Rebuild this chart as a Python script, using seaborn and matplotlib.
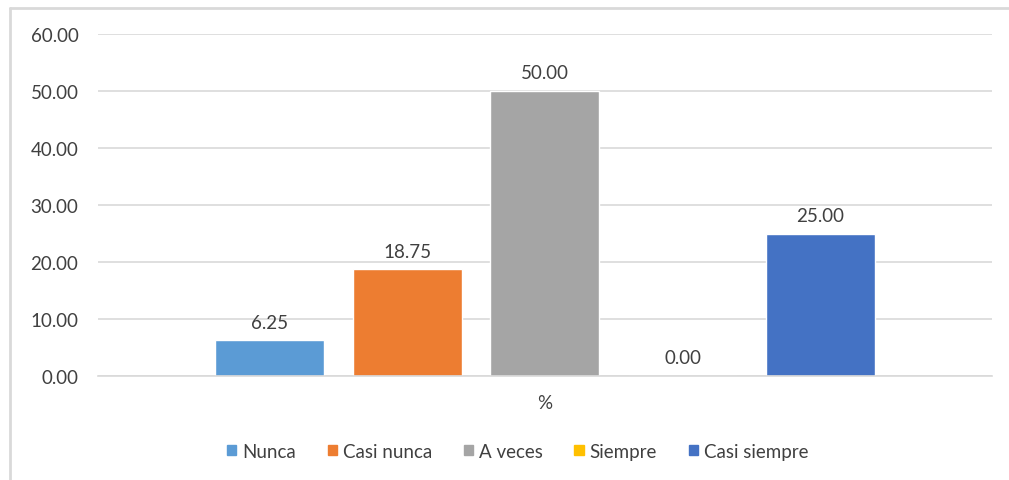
import matplotlib.pyplot as plt
import pandas as pd
import seaborn as sns
from matplotlib.lines import Line2D

# data
categorias = ["Nunca", "Casi nunca", "A veces", "Siempre", "Casi siempre"]
porcentajes = [6.25, 18.75, 50.00, 0.00, 25.00]
colores = ["#5B9BD5", "#ED7D31", "#A5A5A5", "#FFC000", "#4472C4"]
yticks = [0, 10, 20, 30, 40, 50, 60]

df = pd.DataFrame({"grupo": ["%"] * len(categorias),
                   "categoria": categorias,
                   "valor": porcentajes})

sns.set_theme(style="white")
plt.rcParams["font.family"] = ["Lato", "DejaVu Sans"]

fig = plt.figure(figsize=(10.09, 4.81), dpi=100)
ax = fig.add_axes([0.097, 0.216, 0.886, 0.711])

sns.barplot(data=df, x="grupo", y="valor", hue="categoria",
            hue_order=categorias, palette=colores, width=0.77, gap=0.21,
            saturation=1, ax=ax, legend=False)

# data labels
for cont in ax.containers:
    ax.bar_label(cont, fmt="%.2f", padding=7, fontsize=13.5, color="#404040")

ax.set_ylim(0, 60)
ax.set_xlim(-0.5, 0.5)
ax.set_yticks(yticks)
ax.set_yticklabels([f"{v:.2f}" for v in yticks])
ax.yaxis.grid(True, color="#D9D9D9", linewidth=1.2)
ax.set_axisbelow(True)
for s in ["top", "right", "left"]:
    ax.spines[s].set_visible(False)
ax.spines["bottom"].set_color("#D9D9D9")
ax.spines["bottom"].set_linewidth(1.2)
ax.tick_params(axis="both", length=0, labelsize=13.5, colors="#404040")
ax.tick_params(axis="y", pad=14)
ax.tick_params(axis="x", pad=13)
ax.set_xlabel("")
ax.set_ylabel("")

# legend below
handles = [plt.Rectangle((0, 0), 1, 1, color=c) for c in colores]
fig.legend(handles, categorias, loc="center", bbox_to_anchor=(0.513, 0.06),
           ncol=5, frameon=False, fontsize=13.5, handlelength=0.5,
           handleheight=0.5, handletextpad=0.3, columnspacing=1.7,
           labelcolor="#404040")

# chart border (top and left edges visible)
fig.add_artist(Line2D([0.0104, 1.0], [0.982, 0.982], color="#D9D9D9", lw=2))
fig.add_artist(Line2D([0.0104, 0.0104], [0.0, 0.982], color="#D9D9D9", lw=2))

plt.savefig("out.png", dpi=100)
